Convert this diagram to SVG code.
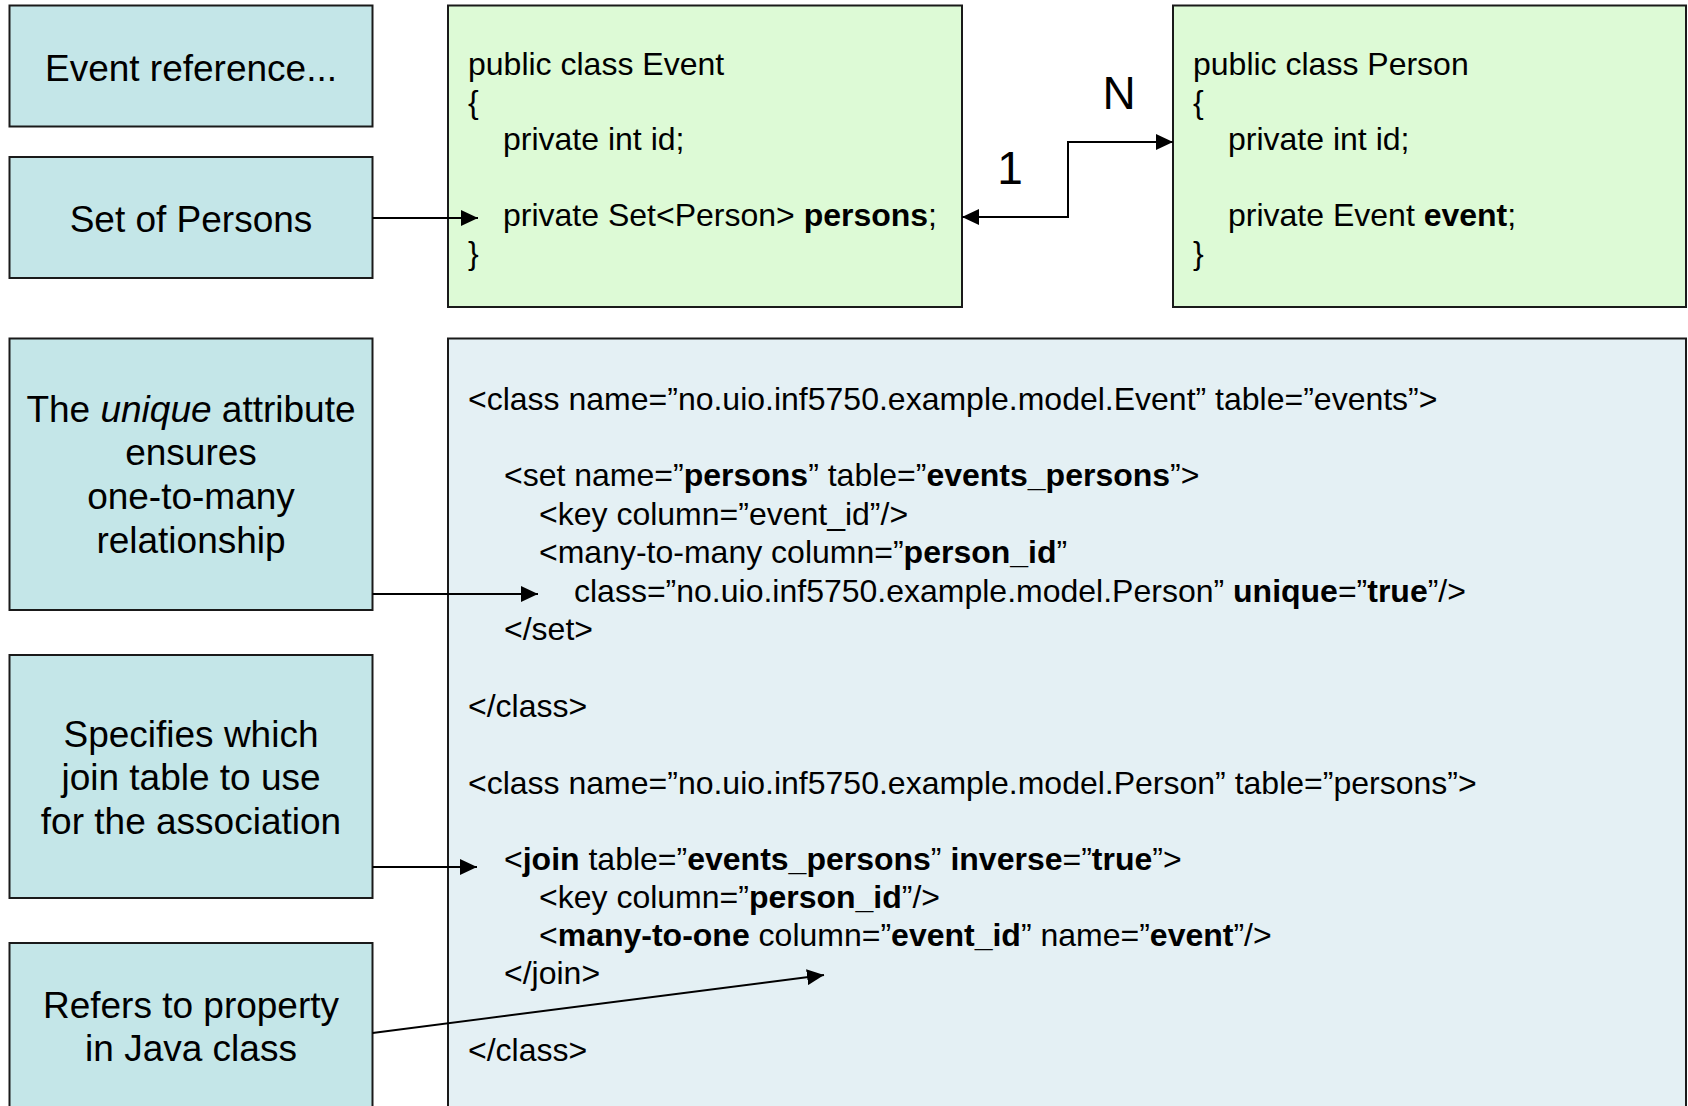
<svg xmlns="http://www.w3.org/2000/svg" width="1688" height="1106" viewBox="0 0 1688 1106">
<style>
.note{fill:#C4E6E8;stroke:#1a1a1a;stroke-width:2}
.cls{fill:#DDFAD6;stroke:#1a1a1a;stroke-width:2}
.xml{fill:#E4F0F4;stroke:#1a1a1a;stroke-width:2}
.lbl{font-family:"Liberation Sans",Arial,sans-serif;font-size:37px;fill:#000;text-anchor:middle}
.mult{font-family:"Liberation Sans",Arial,sans-serif;font-size:46px;fill:#000;text-anchor:middle}
.code{font-family:"Liberation Sans",Arial,sans-serif;font-size:32px;fill:#000}
.b{font-weight:bold}
.conn{fill:none;stroke:#000;stroke-width:2}
</style>
<defs>
<marker id="ah" markerUnits="userSpaceOnUse" markerWidth="18" markerHeight="16" viewBox="0 0 18 16" refX="17" refY="8" orient="auto-start-reverse">
<path d="M0,0 L17,8 L0,16 Z" fill="#000"/>
</marker>
</defs>
<rect width="1688" height="1106" fill="#fff"/>

<g id="note-event-reference">
<rect class="note" x="9.5" y="5.5" width="363" height="121"/>
<text class="lbl" x="191" y="80.5">Event reference...</text>
</g>

<g id="note-set-of-persons">
<rect class="note" x="9.5" y="157" width="363" height="121"/>
<text class="lbl" x="191" y="231.5">Set of Persons</text>
</g>

<g id="class-event">
<rect class="cls" x="448" y="5.5" width="514" height="301.5"/>
<text class="code" x="468" y="75">public class Event</text>
<text class="code" x="468" y="112.5">{</text>
<text class="code" x="503" y="150">private int id;</text>
<text class="code" x="503" y="226">private Set&lt;Person&gt; <tspan class="b">persons</tspan>;</text>
<text class="code" x="468" y="263.5">}</text>
</g>

<g id="class-person">
<rect class="cls" x="1173" y="5.5" width="513" height="301.5"/>
<text class="code" x="1193" y="75">public class Person</text>
<text class="code" x="1193" y="112.5">{</text>
<text class="code" x="1228" y="150">private int id;</text>
<text class="code" x="1228" y="226">private Event <tspan class="b">event</tspan>;</text>
<text class="code" x="1193" y="263.5">}</text>
</g>

<g id="note-unique">
<rect class="note" x="9.5" y="338.5" width="363" height="271.5"/>
<text class="lbl" x="191" y="422">The <tspan font-style="italic">unique</tspan> attribute</text>
<text class="lbl" x="191" y="465">ensures</text>
<text class="lbl" x="191" y="509">one-to-many</text>
<text class="lbl" x="191" y="553">relationship</text>
</g>

<g id="mapping-xml">
<rect class="xml" x="448" y="338.5" width="1238" height="790"/>
<text class="code" x="468" y="410">&lt;class name=”no.uio.inf5750.example.model.Event” table=”events”&gt;</text>
<text class="code" x="504" y="486">&lt;set name=”<tspan class="b">persons</tspan>” table=”<tspan class="b">events_persons</tspan>”&gt;</text>
<text class="code" x="539" y="525">&lt;key column=”event_id”/&gt;</text>
<text class="code" x="539" y="563">&lt;many-to-many column=”<tspan class="b">person_id</tspan>”</text>
<text class="code" x="574" y="602">class=”no.uio.inf5750.example.model.Person” <tspan class="b">unique</tspan>=”<tspan class="b">true</tspan>”/&gt;</text>
<text class="code" x="504" y="640">&lt;/set&gt;</text>
<text class="code" x="468" y="717">&lt;/class&gt;</text>
<text class="code" x="468" y="794">&lt;class name=”no.uio.inf5750.example.model.Person” table=”persons”&gt;</text>
<text class="code" x="504" y="870">&lt;<tspan class="b">join</tspan> table=”<tspan class="b">events_persons</tspan>” <tspan class="b">inverse</tspan>=”<tspan class="b">true</tspan>”&gt;</text>
<text class="code" x="539" y="908">&lt;key column=”<tspan class="b">person_id</tspan>”/&gt;</text>
<text class="code" x="539" y="946">&lt;<tspan class="b">many-to-one</tspan> column=”<tspan class="b">event_id</tspan>” name=”<tspan class="b">event</tspan>”/&gt;</text>
<text class="code" x="504" y="984">&lt;/join&gt;</text>
<text class="code" x="468" y="1061">&lt;/class&gt;</text>
</g>

<g id="note-specifies">
<rect class="note" x="9.5" y="655" width="363" height="243"/>
<text class="lbl" x="191" y="747">Specifies which</text>
<text class="lbl" x="191" y="790">join table to use</text>
<text class="lbl" x="191" y="834">for the association</text>
</g>

<g id="note-refers">
<rect class="note" x="9.5" y="943" width="363" height="190"/>
<text class="lbl" x="191" y="1018">Refers to property</text>
<text class="lbl" x="191" y="1061">in Java class</text>
</g>

<g id="connectors">
<path class="conn" d="M372.5,218 H478" marker-end="url(#ah)"/>
<path class="conn" d="M962,217 H1068 V142 H1173" marker-start="url(#ah)" marker-end="url(#ah)"/>
<text class="mult" x="1010" y="184">1</text>
<text class="mult" x="1119" y="109">N</text>
<path class="conn" d="M372.5,594 H538" marker-end="url(#ah)"/>
<path class="conn" d="M372.5,867 H477" marker-end="url(#ah)"/>
<path class="conn" d="M372.5,1033 L824,975" marker-end="url(#ah)"/>
</g>
</svg>
